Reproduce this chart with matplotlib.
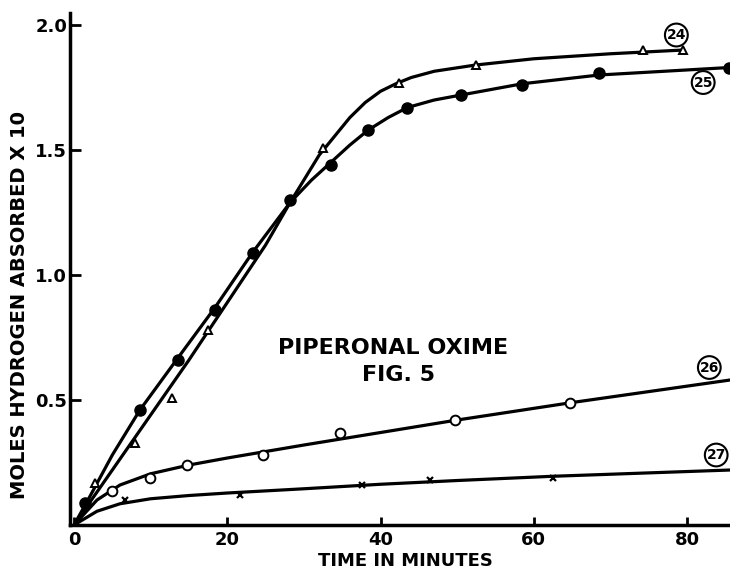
import matplotlib
matplotlib.use("Agg")
import matplotlib.pyplot as plt

t24 = [2.8, 8.0, 12.8, 17.5, 32.5, 42.4, 52.4, 74.2, 79.5]
h24 = [0.17, 0.33, 0.51, 0.78, 1.51, 1.77, 1.84, 1.90, 1.90]
t25 = [1.5, 8.6, 13.6, 18.4, 23.3, 28.2, 33.5, 38.4, 43.5, 50.5, 58.5, 68.5, 85.5]
h25 = [0.09, 0.46, 0.66, 0.86, 1.09, 1.30, 1.44, 1.58, 1.67, 1.72, 1.76, 1.81, 1.83]
t26 = [5.0, 9.9, 14.8, 24.7, 34.7, 49.7, 64.7]
h26 = [0.135, 0.19, 0.24, 0.28, 0.37, 0.42, 0.49]
t27 = [6.7, 21.7, 37.6, 46.5, 62.5]
h27 = [0.10, 0.12, 0.16, 0.18, 0.19]

# the hand-drawn curves through them
c24_t = [0, 5, 10, 15, 20, 25, 28.2, 32, 36, 38, 40, 42, 44, 47, 52.4, 60, 70, 79.5]
c24_h = [0, 0.22, 0.44, 0.66, 0.89, 1.12, 1.29, 1.48, 1.63, 1.69, 1.735, 1.765, 1.79,
         1.815, 1.84, 1.865, 1.885, 1.90]
c25_t = [0, 2, 5, 8.6, 13.6, 18.4, 23.3, 26, 28.2, 31, 33.5, 36, 38.4, 41, 43.5, 47,
         50.5, 58.5, 68.5, 85.5]
c25_h = [0, 0.11, 0.28, 0.46, 0.67, 0.87, 1.09, 1.20, 1.29, 1.38, 1.45, 1.52, 1.58,
         1.63, 1.67, 1.70, 1.72, 1.765, 1.80, 1.83]
c26_t = [0, 3, 6, 10, 15, 20, 30, 40, 50, 65, 85.6]
c26_h = [0, 0.10, 0.16, 0.205, 0.24, 0.268, 0.32, 0.37, 0.42, 0.49, 0.58]
c27_t = [0, 3, 6, 10, 15, 20, 30, 40, 50, 62.5, 85.6]
c27_h = [0, 0.055, 0.085, 0.105, 0.118, 0.128, 0.145, 0.163, 0.178, 0.195, 0.22]

run_labels = ["24", "25", "26", "27"]
label_pos = [(78.6, 1.96), (82.1, 1.77), (82.9, 0.63), (83.8, 0.28)]

xticks = [0, 20, 40, 60, 80]
yticks = [0.5, 1.0, 1.5, 2.0]

fig = plt.figure(figsize=(7.3, 5.69), dpi=100)
ax = fig.add_axes([0.0959, 0.0773, 0.9041, 0.9007])

lw = 2.3
for ct, ch in [(c24_t, c24_h), (c25_t, c25_h), (c26_t, c26_h), (c27_t, c27_h)]:
    ax.plot(ct, ch, color="black", lw=lw, solid_capstyle="round",
            solid_joinstyle="round")

ax.plot(t24, h24, linestyle="none", marker="^", ms=5.5, mfc="white", mec="black", mew=1.4)
ax.plot(t25, h25, linestyle="none", marker="o", ms=8, mfc="black", mec="black")
ax.plot(t26, h26, linestyle="none", marker="o", ms=7, mfc="white", mec="black", mew=1.4)
ax.plot(t27, h27, linestyle="none", marker="x", ms=5, mec="black", mew=1.6)

for lab, (x, y) in zip(run_labels, label_pos):
    ax.text(x, y, lab, ha="center", va="center", fontsize=10, fontweight="bold",
            bbox=dict(boxstyle="circle,pad=0.12", fc="white", ec="black", lw=1.5))

ax.text(41.6, 0.71, "PIPERONAL OXIME", ha="center", va="center",
        fontsize=16, fontweight="bold")
ax.text(42.3, 0.60, "FIG. 5", ha="center", va="center",
        fontsize=16, fontweight="bold")

ax.set_xlim(-0.52, 85.6)
ax.set_ylim(0, 2.05)
ax.set_xticks(xticks)
ax.set_xticklabels([str(v) for v in xticks])
ax.set_yticks(yticks)
ax.set_yticklabels([f"{v:.1f}" for v in yticks])
ax.tick_params(axis="x", direction="in", length=6, width=2, pad=4, labelsize=13)
ax.tick_params(axis="y", direction="in", length=8, width=2, pad=2, labelsize=13)
for lab in ax.get_xticklabels() + ax.get_yticklabels():
    lab.set_fontweight("bold")

for side in ["top", "right"]:
    ax.spines[side].set_visible(False)
for side in ["left", "bottom"]:
    ax.spines[side].set_linewidth(2.5)

fig.text(405 / 730, 1 - 561 / 569, "TIME IN MINUTES", ha="center", va="center",
         fontsize=13, fontweight="bold")
fig.text(20 / 730, 1 - 305 / 569, "MOLES HYDROGEN ABSORBED X 10", ha="center",
         va="center", rotation=90, fontsize=14, fontweight="bold")

fig.savefig("out.png", dpi=100)
